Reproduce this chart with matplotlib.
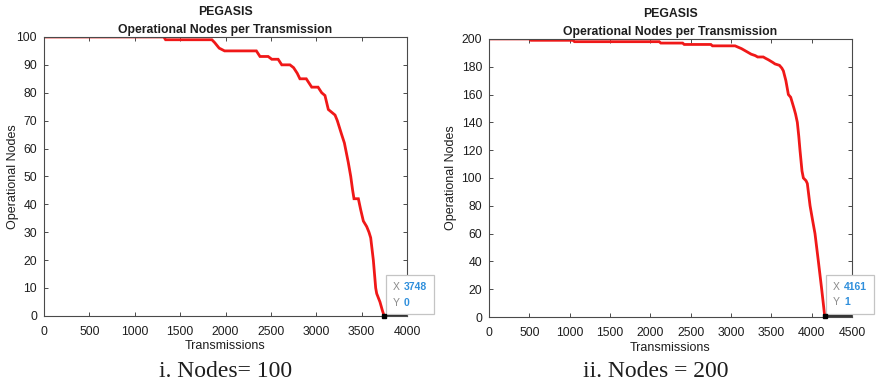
"""PEGASIS lifetime: operational nodes per transmission for 100 and 200 nodes."""
import matplotlib
matplotlib.use("Agg")
import matplotlib.pyplot as plt
from matplotlib.offsetbox import AnnotationBbox, HPacker, TextArea, VPacker

plt.rcParams["font.family"] = ["Liberation Sans", "DejaVu Sans"]

# ── data ─────────────────────────────────────────────────────────────────────

# 100 nodes
tx_100 = [0, 1320, 1340, 1850, 1880, 1930, 1990, 2340, 2380, 2470, 2510, 2580,
          2620, 2710, 2750, 2790, 2820, 2890, 2950, 3020, 3060, 3096, 3133,
          3170, 3207, 3232, 3280, 3310, 3353, 3380, 3401, 3416, 3464, 3490,
          3519, 3556, 3581, 3600, 3629, 3655, 3666, 3702, 3728, 3748]
alive_100 = [100, 100, 99, 99, 98, 96, 95, 95, 93, 93, 92, 92,
             90, 90, 89, 87, 85, 85, 82, 82, 80, 79, 74,
             73, 72, 70, 65, 62, 55, 50, 45, 42, 42, 38,
             34, 32, 30, 28, 20, 10, 8, 5, 2, 0]

# 200 nodes
tx_200 = [0, 500, 520, 1040, 1060, 2110, 2130, 2400, 2420, 2750, 2770, 3050,
          3090, 3130, 3190, 3250, 3300, 3330, 3400, 3430, 3463, 3520, 3545,
          3600, 3630, 3649, 3680, 3711, 3740, 3781, 3800, 3822, 3840, 3855,
          3880, 3897, 3930, 3946, 3980, 4010, 4041, 4083, 4124, 4161]
alive_200 = [200, 200, 199, 199, 198, 198, 197, 197, 196, 196, 195, 195,
             194, 193, 191, 189, 188, 187, 187, 186, 185, 183, 182,
             181, 179, 177, 170, 160, 158, 150, 146, 140, 130, 120,
             105, 100, 98, 96, 80, 70, 60, 40, 20, 1]

x_ticks_100 = [0, 500, 1000, 1500, 2000, 2500, 3000, 3500, 4000]
y_ticks_100 = [0, 10, 20, 30, 40, 50, 60, 70, 80, 90, 100]
x_ticks_200 = [0, 500, 1000, 1500, 2000, 2500, 3000, 3500, 4000, 4500]
y_ticks_200 = [0, 20, 40, 60, 80, 100, 120, 140, 160, 180, 200]

captions = ["i. Nodes= 100", "ii. Nodes = 200"]

LINE_RED = "#f01818"
AXIS_GREY = "#4a4a4a"
TEXT = "#1e1e1e"
TIP_BLUE = "#2f8fdc"


# ── helpers ──────────────────────────────────────────────────────────────────

def datatip(ax, x, y):
    """MATLAB-style data tip box next to the last point."""
    def row(name, value):
        return HPacker(children=[
            TextArea(name, textprops=dict(color="#8a8a8a", fontsize=7.5)),
            TextArea(value, textprops=dict(color=TIP_BLUE, fontsize=7.5,
                                           fontweight="bold")),
        ], align="baseline", pad=0, sep=3)

    box = VPacker(children=[row("X", str(x)), row("Y", str(y))],
                  align="left", pad=0, sep=4)
    ab = AnnotationBbox(box, (x, y), xybox=(6, 6), xycoords="data",
                        boxcoords="offset points", box_alignment=(0, 0),
                        frameon=True, pad=0.5, annotation_clip=False,
                        bboxprops=dict(edgecolor="#c4c4c4", facecolor="white",
                                       linewidth=0.9))
    ax.add_artist(ab)
    ax.plot([x], [y], marker="s", color="black", markersize=2.5, zorder=5,
            clip_on=False)


def draw_panel(ax, xs, ys, x_ticks, y_ticks, ylabel_pad):
    x_max = x_ticks[-1]
    ax.plot(xs, ys, color=LINE_RED, linewidth=2.0, solid_joinstyle="miter")
    ax.hlines(ys[-1], xs[-1], x_max, color="#222222", linewidth=1.3, zorder=4)
    ax.set_xlim(0, x_max)
    ax.set_ylim(0, y_ticks[-1])
    ax.set_xticks(x_ticks)
    ax.set_yticks(y_ticks)
    ax.tick_params(direction="in", length=3, width=0.7, colors=AXIS_GREY,
                   labelcolor=TEXT, labelsize=8.8, top=True, right=True)
    ax.tick_params(axis="x", pad=7)
    ax.tick_params(axis="y", pad=5)
    for sp in ax.spines.values():
        sp.set_color(AXIS_GREY)
        sp.set_linewidth(0.8)
    ax.set_title("PEGASIS\nOperational Nodes per Transmission",
                 fontsize=8.8, fontweight="bold", color=TEXT,
                 linespacing=1.6, pad=3)
    ax.set_xlabel("Transmissions", fontsize=9, color=TEXT, labelpad=2)
    ax.set_ylabel("Operational Nodes", fontsize=9, color=TEXT,
                  labelpad=ylabel_pad)
    datatip(ax, xs[-1], ys[-1])


# ── main ──────────────────────────────────────────────────────────────────────

def main() -> None:
    fig = plt.figure(figsize=(8.8, 3.89), dpi=100)
    ax_left = fig.add_axes([0.050, 0.188, 0.4125, 0.717])
    ax_right = fig.add_axes([0.5557, 0.185, 0.4125, 0.715])

    draw_panel(ax_left, tx_100, alive_100, x_ticks_100, y_ticks_100, -2)
    draw_panel(ax_right, tx_200, alive_200, x_ticks_200, y_ticks_200, 3)

    serif = ["Liberation Serif", "DejaVu Serif"]
    fig.text(0.256, 0.046, captions[0], ha="center", va="center",
             fontsize=17, family=serif, color=TEXT)
    fig.text(0.745, 0.046, captions[1], ha="center", va="center",
             fontsize=17, family=serif, color=TEXT)

    fig.savefig("out.png", dpi=100)
    plt.close(fig)


if __name__ == "__main__":
    main()
